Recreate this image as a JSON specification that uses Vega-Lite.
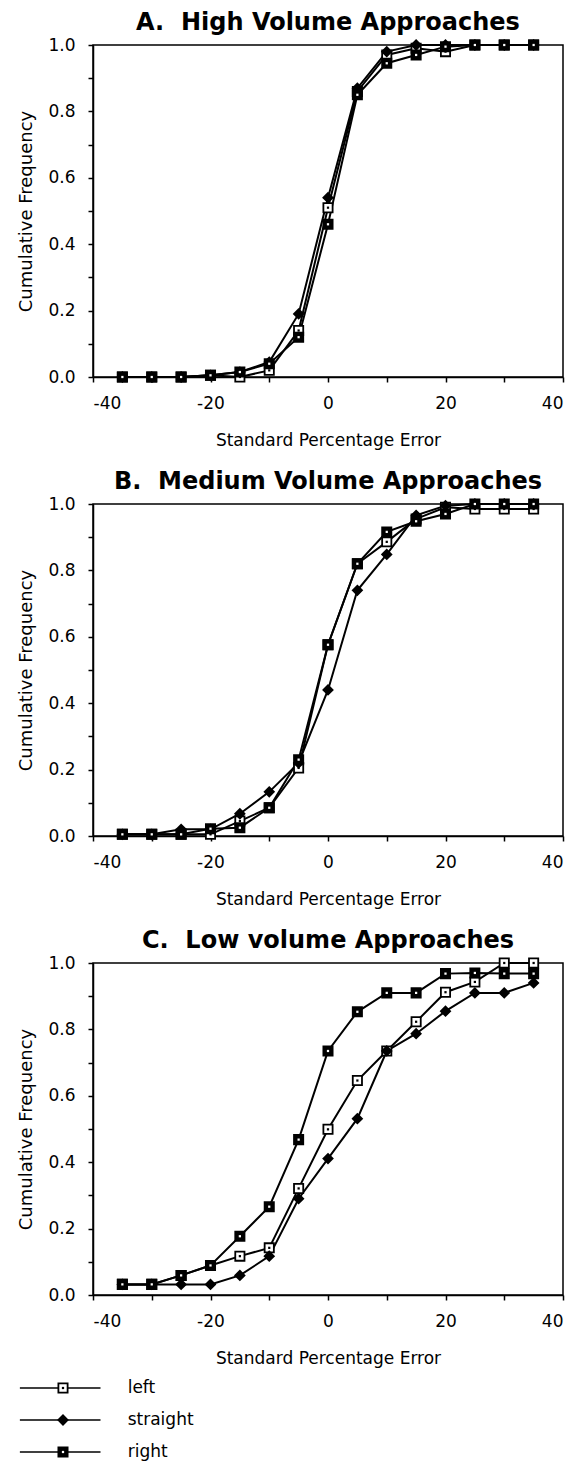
{
  "$schema": "https://vega.github.io/schema/vega-lite/v6.json",
  "padding": {"left": 17, "top": 10, "right": 5, "bottom": 5},
  "background": "white",
  "datasets": {
    "d": [
      {"panel": "A", "x": -35, "left": 0, "straight": 0, "right": 0},
      {"panel": "A", "x": -30, "left": 0, "straight": 0, "right": 0},
      {"panel": "A", "x": -25, "left": 0, "straight": 0, "right": 0},
      {"panel": "A", "x": -20, "left": 0.005, "straight": 0.005, "right": 0.005},
      {"panel": "A", "x": -15, "left": 0, "straight": 0.015, "right": 0.015},
      {"panel": "A", "x": -10, "left": 0.02, "straight": 0.045, "right": 0.04},
      {"panel": "A", "x": -5, "left": 0.14, "straight": 0.19, "right": 0.12},
      {"panel": "A", "x": 0, "left": 0.51, "straight": 0.54, "right": 0.46},
      {"panel": "A", "x": 5, "left": 0.86, "straight": 0.87, "right": 0.85},
      {"panel": "A", "x": 10, "left": 0.97, "straight": 0.98, "right": 0.945},
      {"panel": "A", "x": 15, "left": 0.99, "straight": 1.0, "right": 0.97},
      {"panel": "A", "x": 20, "left": 0.98, "straight": 1.0, "right": 0.995},
      {"panel": "A", "x": 25, "left": 1.0, "straight": 1.0, "right": 1.0},
      {"panel": "A", "x": 30, "left": 1.0, "straight": 1.0, "right": 1.0},
      {"panel": "A", "x": 35, "left": 1.0, "straight": 1.0, "right": 1.0},
      {"panel": "B", "x": -35, "left": 0.005, "straight": 0.005, "right": 0.005},
      {"panel": "B", "x": -30, "left": 0.005, "straight": 0.005, "right": 0.005},
      {"panel": "B", "x": -25, "left": 0.005, "straight": 0.02, "right": 0.005},
      {"panel": "B", "x": -20, "left": 0.005, "straight": 0.02, "right": 0.022},
      {"panel": "B", "x": -15, "left": 0.045, "straight": 0.067, "right": 0.025},
      {"panel": "B", "x": -10, "left": 0.085, "straight": 0.133, "right": 0.085},
      {"panel": "B", "x": -5, "left": 0.205, "straight": 0.22, "right": 0.23},
      {"panel": "B", "x": 0, "left": 0.576, "straight": 0.44, "right": 0.576},
      {"panel": "B", "x": 5, "left": 0.82, "straight": 0.74, "right": 0.82},
      {"panel": "B", "x": 10, "left": 0.886, "straight": 0.848, "right": 0.916},
      {"panel": "B", "x": 15, "left": 0.955, "straight": 0.966, "right": 0.948},
      {"panel": "B", "x": 20, "left": 0.99, "straight": 0.995, "right": 0.97},
      {"panel": "B", "x": 25, "left": 0.985, "straight": 1.0, "right": 1.0},
      {"panel": "B", "x": 30, "left": 0.985, "straight": 1.0, "right": 1.0},
      {"panel": "B", "x": 35, "left": 0.985, "straight": 1.0, "right": 1.0},
      {"panel": "C", "x": -35, "left": 0.032, "straight": 0.032, "right": 0.032},
      {"panel": "C", "x": -30, "left": 0.032, "straight": 0.032, "right": 0.032},
      {"panel": "C", "x": -25, "left": 0.059, "straight": 0.032, "right": 0.059},
      {"panel": "C", "x": -20, "left": 0.089, "straight": 0.032, "right": 0.089},
      {"panel": "C", "x": -15, "left": 0.117, "straight": 0.059, "right": 0.177},
      {"panel": "C", "x": -10, "left": 0.142, "straight": 0.117, "right": 0.266},
      {"panel": "C", "x": -5, "left": 0.321, "straight": 0.29, "right": 0.468},
      {"panel": "C", "x": 0, "left": 0.499, "straight": 0.411, "right": 0.735},
      {"panel": "C", "x": 5, "left": 0.646, "straight": 0.531, "right": 0.853},
      {"panel": "C", "x": 10, "left": 0.735, "straight": 0.735, "right": 0.91},
      {"panel": "C", "x": 15, "left": 0.823, "straight": 0.787, "right": 0.91},
      {"panel": "C", "x": 20, "left": 0.912, "straight": 0.855, "right": 0.968},
      {"panel": "C", "x": 25, "left": 0.943, "straight": 0.91, "right": 0.97},
      {"panel": "C", "x": 30, "left": 1.0, "straight": 0.91, "right": 0.968},
      {"panel": "C", "x": 35, "left": 1.0, "straight": 0.94, "right": 0.968}
    ]
  },
  "config": {
    "font": "DejaVu Sans",
    "view": {"stroke": "black", "strokeWidth": 1.5},
    "axis": {
      "grid": false,
      "domainColor": "black",
      "domainWidth": 1.5,
      "tickColor": "black",
      "tickWidth": 1.5,
      "tickSize": 5,
      "labelColor": "black",
      "titleColor": "black",
      "labelFont": "DejaVu Sans",
      "titleFont": "DejaVu Sans",
      "labelFontSize": 17,
      "titleFontSize": 17,
      "titleFontWeight": "normal",
      "labelOverlap": false
    },
    "title": {"font": "DejaVu Sans", "fontSize": 24, "fontWeight": "bold", "color": "black", "offset": 1}
  },
  "spacing": 5,
  "vconcat": [
    {
      "spacing": 20,
      "vconcat": [
        {
          "title": "A.\u00a0\u00a0High Volume Approaches",
          "width": 470, "height": 332,
          "data": {"name": "d"},
          "transform": [{"filter": "datum.panel == 'A'"}, {"fold": ["left", "straight", "right"], "as": ["series", "y"]}],
          "encoding": {
            "x": {"field": "x", "type": "quantitative", "scale": {"domain": [-40, 40]},
                  "axis": {"title": "Standard Percentage Error", "values": [-40, -30, -20, -10, 0, 10, 20, 30, 40], "labelExpr": "round(datum.value) % 20 == 0 ? '' + datum.value : ''", "labelPadding": 13, "titlePadding": 21}},
            "y": {"field": "y", "type": "quantitative", "scale": {"domain": [0, 1]},
                  "axis": {"title": "Cumulative Frequency", "titleFontSize": 18, "values": [0, 0.1, 0.2, 0.3, 0.4, 0.5, 0.6, 0.7, 0.8, 0.9, 1.0], "labelExpr": "round(datum.value * 10) % 2 == 0 ? format(datum.value, '.1f') : ''", "labelPadding": 13, "titlePadding": 12}}
          },
          "layer": [
            {"mark": {"type": "line", "color": "black", "strokeWidth": 2}, "encoding": {"detail": {"field": "series"}}},
            {"mark": {"type": "point", "filled": true, "size": 85, "stroke": "black", "strokeWidth": 1.8, "opacity": 1},
             "encoding": {
               "shape": {"field": "series", "scale": {"domain": ["left", "straight", "right"], "range": ["square", "diamond", "square"]}, "legend": null},
               "fill": {"field": "series", "scale": {"domain": ["left", "straight", "right"], "range": ["white", "black", "black"]}, "legend": null}}},
            {"mark": {"type": "point", "filled": true, "size": 5, "shape": "square", "opacity": 1},
             "encoding": {"color": {"field": "series", "scale": {"domain": ["left", "straight", "right"], "range": ["black", "black", "white"]}, "legend": null}}}
          ]
        },
        {
          "title": "B.\u00a0\u00a0Medium Volume Approaches",
          "width": 470, "height": 332,
          "data": {"name": "d"},
          "transform": [{"filter": "datum.panel == 'B'"}, {"fold": ["left", "straight", "right"], "as": ["series", "y"]}],
          "encoding": {
            "x": {"field": "x", "type": "quantitative", "scale": {"domain": [-40, 40]},
                  "axis": {"title": "Standard Percentage Error", "values": [-40, -30, -20, -10, 0, 10, 20, 30, 40], "labelExpr": "round(datum.value) % 20 == 0 ? '' + datum.value : ''", "labelPadding": 13, "titlePadding": 21}},
            "y": {"field": "y", "type": "quantitative", "scale": {"domain": [0, 1]},
                  "axis": {"title": "Cumulative Frequency", "titleFontSize": 18, "values": [0, 0.1, 0.2, 0.3, 0.4, 0.5, 0.6, 0.7, 0.8, 0.9, 1.0], "labelExpr": "round(datum.value * 10) % 2 == 0 ? format(datum.value, '.1f') : ''", "labelPadding": 13, "titlePadding": 12}}
          },
          "layer": [
            {"mark": {"type": "line", "color": "black", "strokeWidth": 2}, "encoding": {"detail": {"field": "series"}}},
            {"mark": {"type": "point", "filled": true, "size": 85, "stroke": "black", "strokeWidth": 1.8, "opacity": 1},
             "encoding": {
               "shape": {"field": "series", "scale": {"domain": ["left", "straight", "right"], "range": ["square", "diamond", "square"]}, "legend": null},
               "fill": {"field": "series", "scale": {"domain": ["left", "straight", "right"], "range": ["white", "black", "black"]}, "legend": null}}},
            {"mark": {"type": "point", "filled": true, "size": 5, "shape": "square", "opacity": 1},
             "encoding": {"color": {"field": "series", "scale": {"domain": ["left", "straight", "right"], "range": ["black", "black", "white"]}, "legend": null}}}
          ]
        },
        {
          "title": "C.\u00a0\u00a0Low volume Approaches",
          "width": 470, "height": 332,
          "data": {"name": "d"},
          "transform": [{"filter": "datum.panel == 'C'"}, {"fold": ["left", "straight", "right"], "as": ["series", "y"]}],
          "encoding": {
            "x": {"field": "x", "type": "quantitative", "scale": {"domain": [-40, 40]},
                  "axis": {"title": "Standard Percentage Error", "values": [-40, -30, -20, -10, 0, 10, 20, 30, 40], "labelExpr": "round(datum.value) % 20 == 0 ? '' + datum.value : ''", "labelPadding": 13, "titlePadding": 21}},
            "y": {"field": "y", "type": "quantitative", "scale": {"domain": [0, 1]},
                  "axis": {"title": "Cumulative Frequency", "titleFontSize": 18, "values": [0, 0.1, 0.2, 0.3, 0.4, 0.5, 0.6, 0.7, 0.8, 0.9, 1.0], "labelExpr": "round(datum.value * 10) % 2 == 0 ? format(datum.value, '.1f') : ''", "labelPadding": 13, "titlePadding": 12}}
          },
          "layer": [
            {"mark": {"type": "line", "color": "black", "strokeWidth": 2}, "encoding": {"detail": {"field": "series"}}},
            {"mark": {"type": "point", "filled": true, "size": 85, "stroke": "black", "strokeWidth": 1.8, "opacity": 1},
             "encoding": {
               "shape": {"field": "series", "scale": {"domain": ["left", "straight", "right"], "range": ["square", "diamond", "square"]}, "legend": null},
               "fill": {"field": "series", "scale": {"domain": ["left", "straight", "right"], "range": ["white", "black", "black"]}, "legend": null}}},
            {"mark": {"type": "point", "filled": true, "size": 5, "shape": "square", "opacity": 1},
             "encoding": {"color": {"field": "series", "scale": {"domain": ["left", "straight", "right"], "range": ["black", "black", "white"]}, "legend": null}}}
          ]
        }
      ]
    },
    {
      "width": 150, "height": 96,
      "view": {"stroke": null},
      "data": {"values": [{"series": "left"}, {"series": "straight"}, {"series": "right"}]},
      "encoding": {"y": {"field": "series", "type": "nominal", "scale": {"domain": ["left", "straight", "right"]}, "axis": null}},
      "layer": [
        {"mark": {"type": "rule", "color": "black", "strokeWidth": 1.5},
         "encoding": {"x": {"datum": -78, "type": "quantitative", "scale": {"domain": [0, 150]}, "axis": null}, "x2": {"datum": 8}}},
        {"mark": {"type": "point", "filled": true, "size": 85, "stroke": "black", "strokeWidth": 1.8, "opacity": 1},
         "encoding": {
           "x": {"datum": -32, "type": "quantitative"},
           "shape": {"field": "series", "scale": {"domain": ["left", "straight", "right"], "range": ["square", "diamond", "square"]}, "legend": null},
           "fill": {"field": "series", "scale": {"domain": ["left", "straight", "right"], "range": ["white", "black", "black"]}, "legend": null}}},
        {"mark": {"type": "point", "filled": true, "size": 5, "shape": "square", "opacity": 1},
         "encoding": {
           "x": {"datum": -32, "type": "quantitative"},
           "color": {"field": "series", "scale": {"domain": ["left", "straight", "right"], "range": ["black", "black", "white"]}, "legend": null}}},
        {"mark": {"type": "text", "align": "left", "baseline": "middle", "fontSize": 17, "font": "DejaVu Sans", "color": "black"},
         "encoding": {"x": {"datum": 37, "type": "quantitative"}, "text": {"field": "series"}}}
      ]
    }
  ]
}
